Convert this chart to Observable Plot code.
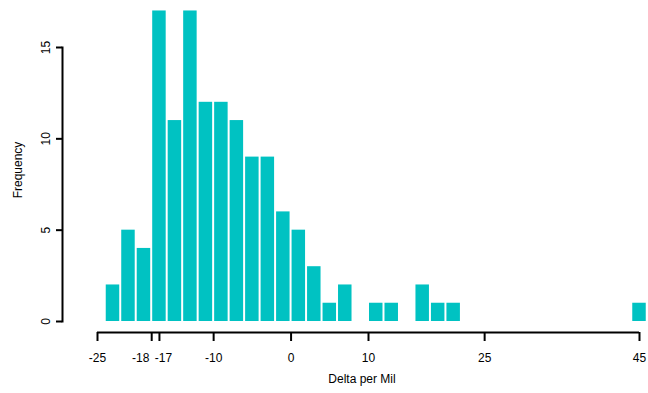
<!DOCTYPE html>
<html>
<head>
<meta charset="utf-8">
<script src="https://cdn.jsdelivr.net/npm/d3@7"></script>
<script src="https://cdn.jsdelivr.net/npm/@observablehq/plot@0.6"></script>
<style>
  html, body { margin: 0; padding: 0; background: #fff; }
  svg { display: block; }
</style>
</head>
<body>
<div id="chart"></div>
<script>
// Histogram bins (left edges, width 2 per mil) and counts
const binLeft = [-24, -22, -20, -18, -16, -14, -12, -10, -8, -6, -4, -2, 0, 2, 4, 6, 10, 12, 16, 18, 20, 44];
const counts  = [  2,   5,   4,  17,  11,  17,  12,  12, 11,  9,  9,  6, 5, 3, 1, 2,  1,  1,  2,  1,  1,  1];
const binWidth = 2;
const xTicks = [-25, -18, -17, -10, 0, 10, 25, 45];
const yTicks = [0, 5, 10, 15];

const bins = binLeft.map((x, i) => ({x1: x, x2: x + binWidth, count: counts[i]}));
const fmt = d => String(d);

const font = "'Liberation Sans', Arial, Helvetica, sans-serif";

const chart = Plot.plot({
  width: 648,
  height: 393,
  marginLeft: 62,
  marginRight: 9,
  marginTop: 47,
  marginBottom: 61,
  style: {fontFamily: font, fontSize: "12px", color: "#000", background: "#fff"},
  x: {domain: [-25, 45], insetLeft: 35},
  y: {domain: [0, 15], insetBottom: 11},
  marks: [
    Plot.rectY(bins, {x1: "x1", x2: "x2", y: "count", fill: "#00C2C2", insetLeft: 1, insetRight: 1}),
    Plot.frame({anchor: "left", insetBottom: 11, stroke: "#000", strokeWidth: 2}),
    Plot.ruleY([0], {x1: xTicks[0], x2: xTicks[xTicks.length - 1], dy: 11, stroke: "#000", strokeWidth: 2}),
    Plot.axisX({ticks: xTicks, tickSize: 9, strokeWidth: 2, text: null, label: null}),
    Plot.text(xTicks.filter(d => d !== -18 && d !== -17), {x: d => d, text: fmt, frameAnchor: "bottom", dy: 29, fontSize: 12, fill: "#000"}),
    Plot.text(xTicks.filter(d => d === -18), {x: d => d, text: fmt, frameAnchor: "bottom", dy: 29, dx: -11, fontSize: 12, fill: "#000"}),
    Plot.text(xTicks.filter(d => d === -17), {x: d => d, text: fmt, frameAnchor: "bottom", dy: 29, dx: 4, fontSize: 12, fill: "#000"}),
    Plot.axisY({ticks: yTicks, tickSize: 6, tickRotate: -90, tickPadding: 7, strokeWidth: 2, fontSize: 12, label: null}),
    Plot.text(["Delta per Mil"], {frameAnchor: "bottom", dx: 11, dy: 50, fontSize: 12, fill: "#000"}),
    Plot.text(["Frequency"], {frameAnchor: "left", textAnchor: "middle", rotate: -90, dx: -44, dy: -20, fontSize: 12, fill: "#000"})
  ]
});

document.getElementById("chart").appendChild(chart);
</script>
</body>
</html>
